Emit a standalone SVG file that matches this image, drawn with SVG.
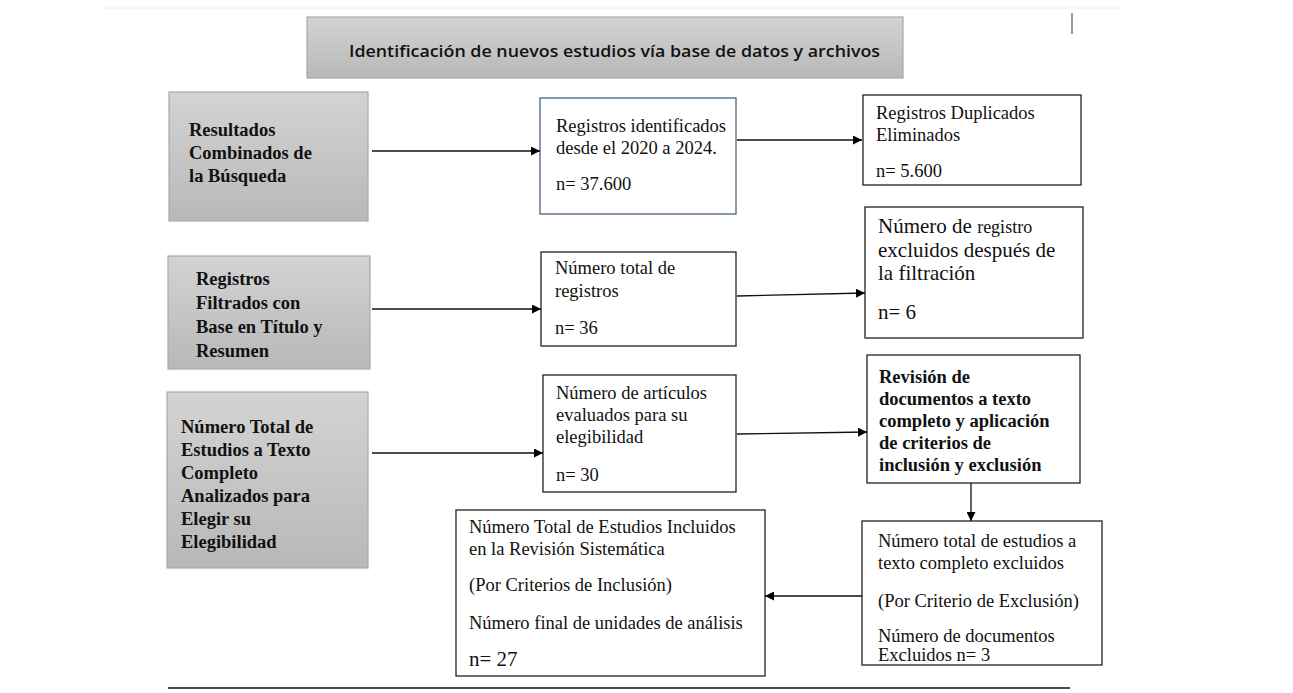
<svg xmlns="http://www.w3.org/2000/svg" width="1293" height="693" viewBox="0 0 1293 693">
<defs>
<linearGradient id="gray" x1="0" y1="0" x2="0" y2="1">
<stop offset="0" stop-color="#d3d3d3"/>
<stop offset="1" stop-color="#b8b8b8"/>
</linearGradient>
<marker id="arr" viewBox="0 0 10 10" refX="10" refY="5" markerWidth="9" markerHeight="9" markerUnits="userSpaceOnUse" orient="auto">
<path d="M0,0 L10,5 L0,10 z" fill="#000"/>
</marker>
<style>
.g{fill:url(#gray);stroke:#a8a8a8;stroke-width:1.2}
.w{fill:#fff;stroke:#222;stroke-width:1.3}
.t{font-family:"Liberation Serif","Times New Roman",serif;font-size:18.5px;fill:#111}
.b{font-family:"Liberation Serif","Times New Roman",serif;font-size:18.5px;font-weight:bold;fill:#111}
.big{font-size:21px}
.c line{stroke:#111;stroke-width:1.3;marker-end:url(#arr)}
</style>
</defs>
<rect width="1293" height="693" fill="#fff"/>
<line x1="100" y1="8" x2="1120" y2="8" stroke="#f0f0f0" stroke-width="1"/>
<line x1="1072" y1="13" x2="1072" y2="34" stroke="#555" stroke-width="1.2"/>

<g id="title">
<rect x="307" y="17" width="596" height="61" class="g"/>
<text x="349" y="57" font-family="'Open Sans','Liberation Sans',sans-serif" font-size="17" font-weight="600" fill="#111" textLength="531" lengthAdjust="spacingAndGlyphs">Identificación de nuevos estudios vía base de datos y archivos</text>
</g>

<g id="n1">
<rect x="169" y="92" width="199" height="129" class="g"/>
<text class="b"><tspan x="189" y="136">Resultados</tspan><tspan x="189" y="159">Combinados de</tspan><tspan x="189" y="182">la Búsqueda</tspan></text>
</g>
<g id="n2">
<rect x="540" y="98" width="196" height="116" fill="#fff" stroke="#4a6584" stroke-width="1.3"/>
<text class="t"><tspan x="556" y="132">Registros identificados</tspan><tspan x="556" y="154">desde el 2020 a 2024.</tspan><tspan x="556" y="190">n= 37.600</tspan></text>
</g>
<g id="n3">
<rect x="863" y="95" width="218" height="90" class="w"/>
<text class="t"><tspan x="876" y="119">Registros Duplicados</tspan><tspan x="876" y="141">Eliminados</tspan><tspan x="876" y="177">n= 5.600</tspan></text>
</g>

<g id="n4">
<rect x="168" y="256" width="202" height="113" class="g"/>
<text class="b"><tspan x="196" y="285">Registros</tspan><tspan x="196" y="309">Filtrados con</tspan><tspan x="196" y="333">Base en Título y</tspan><tspan x="196" y="357">Resumen</tspan></text>
</g>
<g id="n5">
<rect x="541" y="252" width="195" height="94" class="w"/>
<text class="t"><tspan x="555" y="274">Número total de</tspan><tspan x="555" y="297">registros</tspan><tspan x="555" y="334">n= 36</tspan></text>
</g>
<g id="n6">
<rect x="865" y="207" width="218" height="131" class="w"/>
<text class="t big"><tspan x="878" y="233">Número de <tspan font-size="18px">registro</tspan></tspan><tspan x="878" y="257">excluidos después de</tspan><tspan x="878" y="280">la filtración</tspan><tspan x="878" y="319">n= 6</tspan></text>
</g>

<g id="n7">
<rect x="167" y="392" width="201" height="176" class="g"/>
<text class="b"><tspan x="181" y="433">Número Total de</tspan><tspan x="181" y="456">Estudios a Texto</tspan><tspan x="181" y="479">Completo</tspan><tspan x="181" y="502">Analizados para</tspan><tspan x="181" y="525">Elegir su</tspan><tspan x="181" y="548">Elegibilidad</tspan></text>
</g>
<g id="n8">
<rect x="543" y="375" width="193" height="117" class="w"/>
<text class="t"><tspan x="556" y="399">Número de artículos</tspan><tspan x="556" y="421">evaluados para su</tspan><tspan x="556" y="443">elegibilidad</tspan><tspan x="556" y="481">n= 30</tspan></text>
</g>
<g id="n9">
<rect x="867" y="355" width="213" height="128" class="w"/>
<text class="b"><tspan x="879" y="383">Revisión de</tspan><tspan x="879" y="405">documentos a texto</tspan><tspan x="879" y="427">completo y aplicación</tspan><tspan x="879" y="449">de criterios de</tspan><tspan x="879" y="471">inclusión y exclusión</tspan></text>
</g>
<g id="n10">
<rect x="862" y="521" width="240" height="144" class="w"/>
<text class="t"><tspan x="878" y="547">Número total de estudios a</tspan><tspan x="878" y="569">texto completo excluidos</tspan><tspan x="878" y="607">(Por Criterio de Exclusión)</tspan><tspan x="878" y="642">Número de documentos</tspan><tspan x="878" y="661">Excluidos n= 3</tspan></text>
</g>
<g id="n11">
<rect x="456" y="510" width="309" height="166" class="w"/>
<text class="t"><tspan x="469" y="533">Número Total de Estudios Incluidos</tspan><tspan x="469" y="555">en la Revisión Sistemática</tspan><tspan x="469" y="591">(Por Criterios de Inclusión)</tspan><tspan x="469" y="629">Número final de unidades de análisis</tspan><tspan x="469" y="666" font-size="21px">n= 27</tspan></text>
</g>

<g id="connectors" class="c">
<line x1="372" y1="151" x2="540" y2="151"/>
<line x1="737" y1="140" x2="862" y2="140"/>
<line x1="372" y1="309" x2="541" y2="309"/>
<line x1="737" y1="296" x2="865" y2="293"/>
<line x1="372" y1="453" x2="543" y2="453"/>
<line x1="737" y1="434" x2="867" y2="432"/>
<line x1="971" y1="483" x2="971" y2="521"/>
<line x1="862" y1="596" x2="765" y2="596"/>
</g>
<line x1="168" y1="688" x2="1070" y2="688" stroke="#111" stroke-width="1.3"/>
</svg>
